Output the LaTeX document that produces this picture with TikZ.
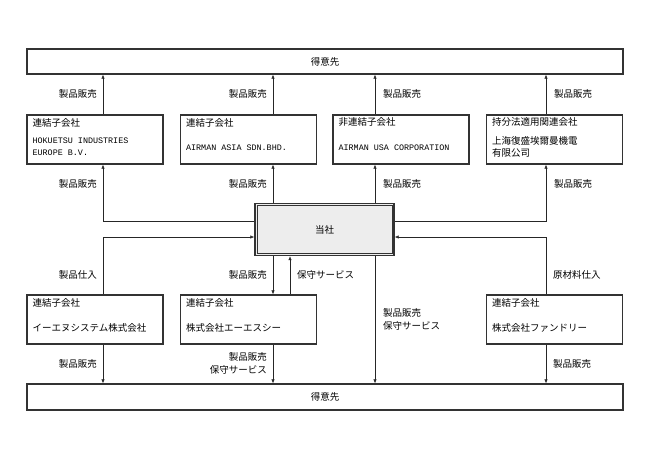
\documentclass[tikz,border=0pt]{standalone}
\usepackage{fontspec}
\setmainfont{Noto Sans CJK JP}
\newfontfamily\latinname{Liberation Mono}
\usetikzlibrary{arrows.meta}

\begin{document}
\begin{tikzpicture}[x=1pt, y=-1pt,
        font=\fontsize{9.5}{13}\selectfont,
        party/.style={draw=black!80, line width=1.2pt, minimum width=596pt, minimum height=25pt, inner sep=0pt},
        unit/.style={draw=black!80, line width=1.2pt, minimum width=136pt, minimum height=49pt, inner sep=0pt},
        hqbox/.style={draw=black!80, line width=1.3pt, fill=black!7, minimum width=139pt, minimum height=52pt, inner sep=0pt},
        kind/.style={anchor=west, inner sep=0pt},
        jpname/.style={anchor=west, inner sep=0pt, align=left, font=\fontsize{9.5}{12}\selectfont},
        enname/.style={anchor=west, inner sep=0pt, align=left, font=\latinname\fontsize{8.4}{12}\selectfont},
        note/.style={inner sep=0pt},
        flow/.style={draw=black!85, line width=0.6pt, -{Latex[length=4pt,width=3.4pt]}},
        link/.style={draw=black!85, line width=0.6pt}]
    \useasboundingbox (0,0) rectangle (649,459);

    \coordinate (xa) at (103,0);
    \coordinate (xb) at (273,0);
    \coordinate (xs) at (290,0);
    \coordinate (xc) at (375,0);
    \coordinate (xd) at (546,0);
    \coordinate (rout) at (0,221);
    \coordinate (rin) at (0,237);

    \node[party] (top) at (325,61.5) {得意先};
    \node[party, minimum height=26pt] (bot) at (325,397) {得意先};
    \node[hqbox] (hq) at (324.5,229.5) {当社};
    \draw[black!80, line width=0.7pt] ([shift={(2.6,-2.6)}]hq.south west) rectangle ([shift={(-2.6,2.6)}]hq.north east);

    \node[unit] (eu) at (95,139.5) {};
    \node[kind] (eu-k) at ([shift={(6,8)}]eu.north west) {連結子会社};
    \node[enname] (eu-n) at ([shift={(6,32)}]eu.north west) {HOKUETSU INDUSTRIES\\EUROPE B.V.};

    \node[unit] (asia) at (248.5,139.5) {};
    \node[kind] (asia-k) at ([shift={(6,8)}]asia.north west) {連結子会社};
    \node[enname] (asia-n) at ([shift={(6,33)}]asia.north west) {AIRMAN ASIA SDN.BHD.};

    \node[unit] (usa) at (401,139.5) {};
    \node[kind] (usa-k) at ([shift={(6,8)}]usa.north west) {非連結子会社};
    \node[enname] (usa-n) at ([shift={(6,33)}]usa.north west) {AIRMAN USA CORPORATION};

    \node[unit] (sh) at (554.5,139.5) {};
    \node[kind] (sh-k) at ([shift={(6,8)}]sh.north west) {持分法適用関連会社};
    \node[jpname] (sh-n) at ([shift={(6,32)}]sh.north west) {上海復盛埃爾曼機電\\有限公司};

    \node[unit] (ie) at (95,319.5) {};
    \node[kind] (ie-k) at ([shift={(6,8)}]ie.north west) {連結子会社};
    \node[jpname] (ie-n) at ([shift={(6,33)}]ie.north west) {イーエヌシステム株式会社};

    \node[unit] (aes) at (248.5,319.5) {};
    \node[kind] (aes-k) at ([shift={(6,8)}]aes.north west) {連結子会社};
    \node[jpname] (aes-n) at ([shift={(6,33)}]aes.north west) {株式会社エーエスシー};

    \node[unit] (fd) at (554.5,319.5) {};
    \node[kind] (fd-k) at ([shift={(6,8)}]fd.north west) {連結子会社};
    \node[jpname] (fd-n) at ([shift={(6,33)}]fd.north west) {株式会社ファンドリー};

    \draw[flow] (eu.north -| xa) -- (top.south -| xa);
    \draw[flow] (asia.north -| xb) -- (top.south -| xb);
    \draw[flow] (usa.north -| xc) -- (top.south -| xc);
    \draw[flow] (sh.north -| xd) -- (top.south -| xd);
    \draw[flow] (hq.west |- rout) -| (eu.south -| xa);
    \draw[flow] (hq.north -| xb) -- (asia.south -| xb);
    \draw[flow] (hq.north -| xc) -- (usa.south -| xc);
    \draw[flow] (hq.east |- rout) -| (sh.south -| xd);
    \draw[flow] (ie.north -| xa) |- (hq.west |- rin);
    \draw[flow] (fd.north -| xd) |- (hq.east |- rin);
    \draw[flow] (hq.south -| xb) -- (aes.north -| xb);
    \draw[flow] (aes.north -| xs) -- (hq.south -| xs);
    \draw[flow] (hq.south -| xc) -- (bot.north -| xc);
    \draw[flow] (ie.south -| xa) -- (bot.north -| xa);
    \draw[flow] (aes.south -| xb) -- (bot.north -| xb);
    \draw[flow] (fd.south -| xd) -- (bot.north -| xd);

    \node[note, anchor=east] (s1) at ([xshift=-6]xa |- 0,94) {製品販売};
    \node[note, anchor=east] (s2) at ([xshift=-6]xb |- 0,94) {製品販売};
    \node[note, anchor=west] (s3) at ([xshift=8]xc |- 0,94) {製品販売};
    \node[note, anchor=west] (s4) at ([xshift=8]xd |- 0,94) {製品販売};
    \node[note, anchor=east] (s5) at ([xshift=-6]xa |- 0,184) {製品販売};
    \node[note, anchor=east] (s6) at ([xshift=-6]xb |- 0,184) {製品販売};
    \node[note, anchor=west] (s7) at ([xshift=8]xc |- 0,184) {製品販売};
    \node[note, anchor=west] (s8) at ([xshift=8]xd |- 0,184) {製品販売};
    \node[note, anchor=east] (p1) at ([xshift=-6]xa |- 0,275) {製品仕入};
    \node[note, anchor=east] (s9) at ([xshift=-6]xb |- 0,275) {製品販売};
    \node[note, anchor=west] (m1) at ([xshift=7]xs |- 0,275) {保守サービス};
    \node[note, anchor=west] (p2) at ([xshift=7]xd |- 0,275) {原材料仕入};
    \node[note, anchor=west, align=left] (sm1) at ([xshift=8]xc |- 0,319) {製品販売\\保守サービス};
    \node[note, anchor=east] (s10) at ([xshift=-6]xa |- 0,364) {製品販売};
    \node[note, anchor=east, align=right] (sm2) at ([xshift=-6]xb |- 0,363.5) {製品販売\\保守サービス};
    \node[note, anchor=west] (s11) at ([xshift=7]xd |- 0,364) {製品販売};
\end{tikzpicture}
\end{document}
